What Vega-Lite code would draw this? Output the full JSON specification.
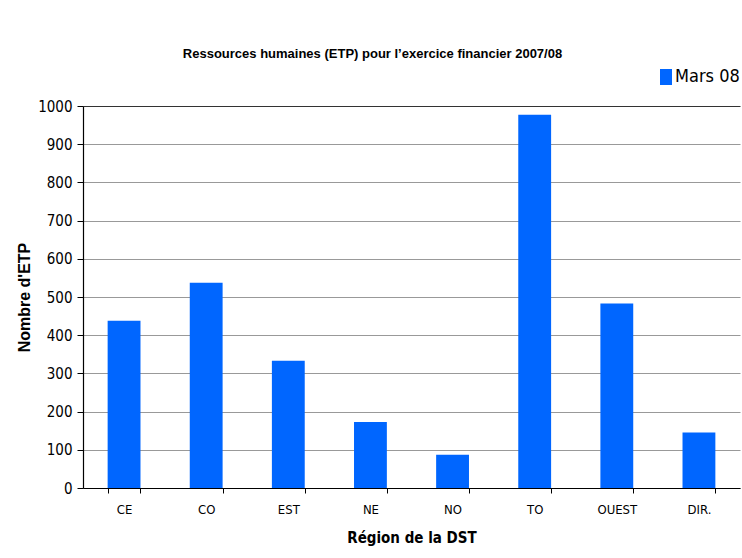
{
  "$schema": "https://vega.github.io/schema/vega-lite/v6.json",
  "width": 657,
  "height": 382,
  "autosize": {"type": "none"},
  "padding": {"left": 83, "top": 106, "right": 2, "bottom": 70},
  "background": "white",
  "title": {
    "text": "Ressources humaines (ETP) pour l’exercice financier 2007/08",
    "anchor": "middle",
    "frame": "group",
    "dx": -39,
    "offset": 7,
    "font": "Liberation Sans",
    "fontSize": 13,
    "fontWeight": "bold",
    "color": "black"
  },
  "data": {
    "values": [
      {"region": "CE", "etp": 438, "serie": "Mars 08"},
      {"region": "CO", "etp": 537, "serie": "Mars 08"},
      {"region": "EST", "etp": 333, "serie": "Mars 08"},
      {"region": "NE", "etp": 173, "serie": "Mars 08"},
      {"region": "NO", "etp": 87, "serie": "Mars 08"},
      {"region": "TO", "etp": 977, "serie": "Mars 08"},
      {"region": "OUEST", "etp": 483, "serie": "Mars 08"},
      {"region": "DIR.", "etp": 145, "serie": "Mars 08"}
    ]
  },
  "mark": {"type": "bar"},
  "encoding": {
    "x": {
      "field": "region",
      "type": "nominal",
      "sort": null,
      "scale": {"paddingInner": 0.6, "paddingOuter": 0.3},
      "axis": {
        "title": "Région de la DST",
        "labelAngle": 0,
        "labelFont": "DejaVu Sans Condensed",
        "labelFontSize": 13,
        "labelColor": "black",
        "labelPadding": 10,
        "tickBand": "extent",
        "tickSize": 5,
        "tickColor": "black",
        "domainColor": "black",
        "titleFont": "DejaVu Sans Condensed",
        "titleFontSize": 15,
        "titleFontWeight": "bold",
        "titleColor": "black",
        "titlePadding": 14
      }
    },
    "y": {
      "field": "etp",
      "type": "quantitative",
      "scale": {"domain": [0, 1000], "nice": false},
      "axis": {
        "title": "Nombre d'ETP",
        "format": "d",
        "values": [0, 100, 200, 300, 400, 500, 600, 700, 800, 900, 1000],
        "labelFont": "DejaVu Sans Condensed",
        "labelFontSize": 15,
        "labelColor": "black",
        "labelPadding": 5,
        "tickSize": 6,
        "tickColor": "black",
        "domainColor": "black",
        "gridColor": {"condition": {"test": "datum.value === 1000", "value": "#333333"}, "value": "#999999"},
        "gridWidth": 1.2,
        "titleFont": "Liberation Sans",
        "titleFontSize": 16,
        "titleFontWeight": "bold",
        "titleColor": "black",
        "titlePadding": 5
      }
    },
    "color": {
      "field": "serie",
      "type": "nominal",
      "scale": {"range": ["#0066FF"]},
      "legend": {
        "title": null,
        "orient": "none",
        "legendX": 574,
        "legendY": -38,
        "symbolType": "M-0.75,-1H0.75V1H-0.75Z",
        "symbolSize": 256,
        "symbolStrokeWidth": 0,
        "labelFont": "DejaVu Sans Condensed",
        "labelFontSize": 18,
        "labelColor": "black",
        "labelOffset": 0
      }
    }
  },
  "config": {
    "view": {"stroke": null},
    "axis": {"domainWidth": 1.2, "tickWidth": 1}
  }
}
